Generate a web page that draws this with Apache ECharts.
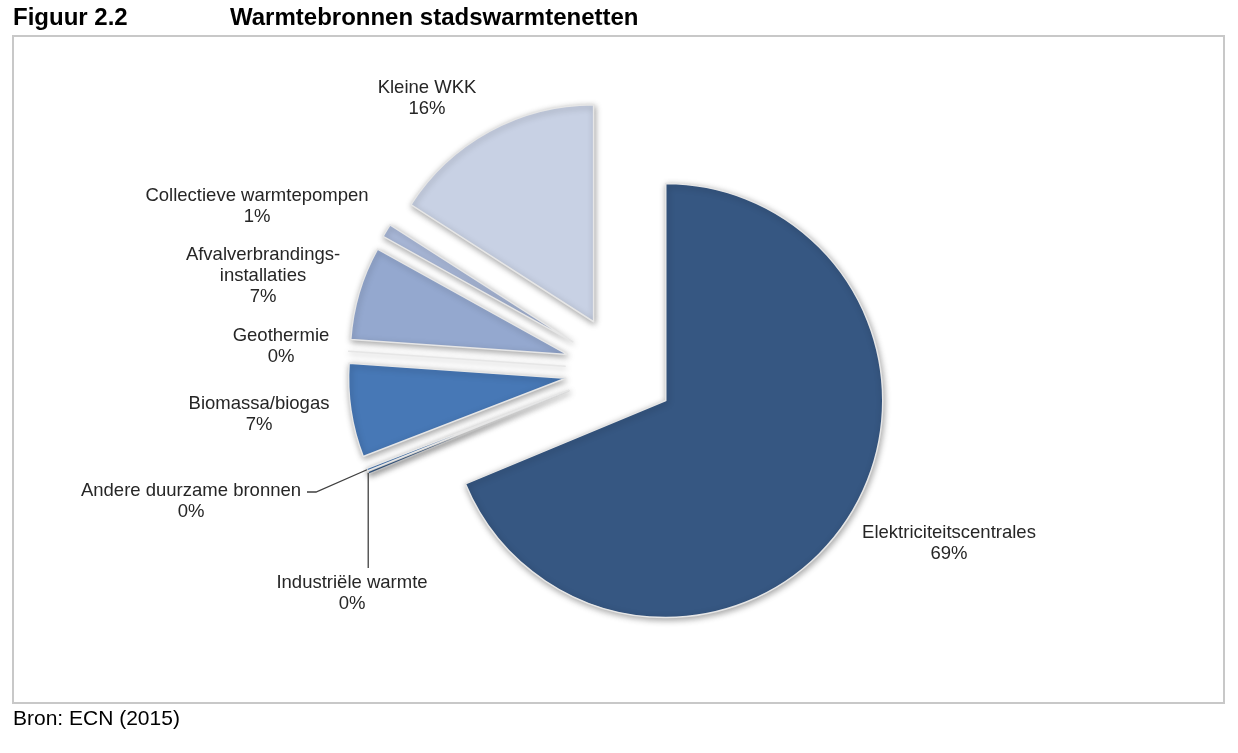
<!DOCTYPE html>
<html><head><meta charset="utf-8">
<script src="https://cdn.jsdelivr.net/npm/echarts@6/dist/echarts.min.js"></script>
<style>html,body{margin:0;padding:0;background:#fff}#c{width:1238px;height:753px}</style>
</head><body><div id="c"></div>
<script>
// ---- data ----
const categories = ['Elektriciteitscentrales', 'Industriële warmte', 'Andere duurzame bronnen', 'Biomassa/biogas',
  'Geothermie', 'Afvalverbrandings-\ninstallaties', 'Collectieve warmtepompen', 'Kleine WKK'];
const values = [69, 0.2, 0.2, 7, 0, 7, 1, 16];

// ---- style / layout (not data) ----
const colors = ['#365782', '#3f6ca5', '#4677b4', '#4778b6', '#7e9bcb', '#94a8cf', '#a9b8d8', '#c8d1e4'];
const PIE_CENTER = [620, 370];
const PIE_R = 217;
const EXPLODE = 55;
const labelLayoutMap = [
  { x: 949, y: 522 },
  { x: 352, y: 572 },
  { x: 191, y: 480 },
  { x: 259, y: 393 },
  { x: 281, y: 325 },
  { x: 263, y: 244 },
  { x: 257, y: 185 },
  { x: 427, y: 77 }
];
const withLine = [false, true, true, false, false, false, false, false];
const FONT = '"Liberation Sans", Arial, sans-serif';

const chart = echarts.init(document.getElementById('c'), null, { renderer: 'canvas' });

const sliceData = categories.map((n, i) => ({
  name: n, value: values[i], selected: true,
  itemStyle: { color: colors[i] },
  select: { itemStyle: { color: colors[i] } }
}));
const labelData = categories.map((n, i) => ({
  name: n, value: values[i],
  labelLine: { show: withLine[i] }
}));

chart.setOption({
  backgroundColor: '#ffffff',
  animation: false,
  graphic: [
    { type: 'rect', shape: { x: 13, y: 36, width: 1211, height: 667 },
      style: { fill: '#ffffff', stroke: '#c8c8c8', lineWidth: 2 }, z: -10 },
    { type: 'text', left: 13, top: 6,
      style: { text: 'Figuur 2.2', font: 'bold 24px ' + FONT, fill: '#000' } },
    { type: 'text', left: 230, top: 6,
      style: { text: 'Warmtebronnen stadswarmtenetten', font: 'bold 24px ' + FONT, fill: '#000' } },
    { type: 'text', left: 13, top: 709,
      style: { text: 'Bron: ECN (2015)', font: '21px ' + FONT, fill: '#000' } }
  ],
  series: [{
    // exploded slices
    type: 'pie',
    center: PIE_CENTER,
    radius: PIE_R,
    startAngle: 90,
    clockwise: true,
    selectedMode: 'multiple',
    selectedOffset: EXPLODE,
    avoidLabelOverlap: false,
    silent: true,
    itemStyle: {
      borderColor: '#e6e6e6', borderWidth: 1.5,
      shadowBlur: 6, shadowColor: 'rgba(0,0,0,0.35)', shadowOffsetX: 1, shadowOffsetY: 2
    },
    label: { show: false },
    labelLine: { show: false },
    data: sliceData
  }, {
    // same data, invisible, only carries labels at exploded outer radius
    type: 'pie',
    center: PIE_CENTER,
    radius: PIE_R + EXPLODE,
    startAngle: 90,
    clockwise: true,
    avoidLabelOverlap: false,
    silent: true,
    z: 5,
    itemStyle: { color: 'rgba(0,0,0,0)', borderWidth: 0 },
    label: {
      show: true,
      position: 'outside',
      formatter: p => p.name + '\n' + Math.round(p.value) + '%',
      fontFamily: FONT,
      fontSize: 18.5,
      lineHeight: 21,
      color: '#262626'
    },
    labelLine: { show: false, lineStyle: { color: '#404040', width: 1.3 } },
    labelLayout: function (params) {
      const i = params.dataIndex;
      const pos = labelLayoutMap[i];
      const res = { x: pos.x, y: pos.y, align: 'center', verticalAlign: 'top' };
      const pts = params.labelLinePoints;
      if (withLine[i] && pts) {
        const s = pts[0];
        if (i === 1) {
          res.labelLinePoints = [[s[0], s[1]], [s[0], (s[1] + pos.y - 4) / 2], [s[0], pos.y - 4]];
        } else if (i === 2) {
          res.labelLinePoints = [[s[0], s[1]], [316, pos.y + 12], [307, pos.y + 12]];
        }
      }
      return res;
    },
    data: labelData
  }]
});
</script>
</body></html>
